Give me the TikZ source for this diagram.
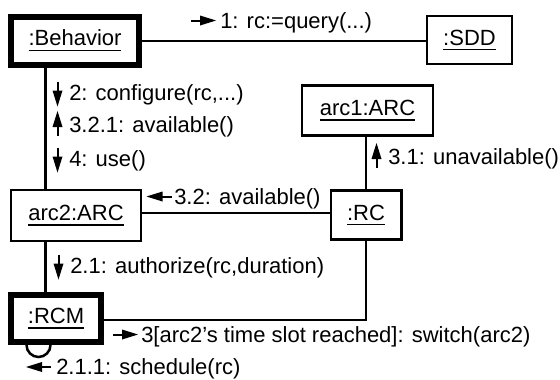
\documentclass[tikz,border=0pt]{standalone}
\usepackage{fontspec}
\setmainfont{Liberation Sans}
\newcommand\ulx[1]{\setbox0\hbox{#1}\rlap{\vrule height -3.75pt depth 5.25pt width \wd0}\box0}
\begin{document}
\begin{tikzpicture}[x=1pt,y=-1pt, line width=2.5pt, font=\fontsize{22}{26}\selectfont,
  obj/.style={draw, rectangle, inner sep=0pt, text height=15.75pt, text depth=5.5pt},
  act/.style={obj, line width=6pt},
  msgtxt/.style={anchor=base west, inner sep=0pt},
  marrow/.pic={\draw[line width=2pt] (0,0) -- (10,0); \fill (9,-5) -- (25,0) -- (9,5) -- cycle;}]
\useasboundingbox (0,0) rectangle (560,380);
% objects
\node[act, minimum width=128pt, minimum height=48.5pt] (Beh) at (75,40.75) {\ulx{:Behavior}};
\node[obj, minimum width=85pt, minimum height=48pt] (SDD) at (469.5,40) {\ulx{:SDD}};
\node[obj, minimum width=131pt, minimum height=50pt] (arc1) at (367.5,110.5) {\ulx{arc1:ARC}};
\node[obj, minimum width=130pt, minimum height=51pt] (arc2) at (76,215.5) {\ulx{arc2:ARC}};
\node[obj, minimum width=70.5pt, minimum height=49pt] (RC) at (366,215) {\ulx{:RC}};
\node[act, minimum width=90pt, minimum height=47pt] (RCM) at (56,318.5) {\ulx{:RCM}};
% helper coordinates
\coordinate (vx) at (45.5,0);
\coordinate (hy) at (0,213);
\coordinate (ry) at (0,320);
\coordinate (lx) at (26.5,0);
% links
\draw (Beh.east) -- (Beh.east -| SDD.west);
\draw (Beh.south -| vx) -- (arc2.north -| vx);
\draw (arc2.south -| vx) -- (RCM.north -| vx);
\draw (arc2.east |- hy) -- (RC.west |- hy);
\draw (arc1.south -| RC) -- (RC.north);
\draw (RCM.east |- ry) -| (RC.south);
\draw (RCM.south -| lx) arc[start angle=180, end angle=360, radius=12pt];
% messages
\node[msgtxt] (m1) at (219,28) {1: rc:=query(...)};
\pic at ([shift={(-28pt,7.5pt)}]m1.base west) {marrow};
\node[msgtxt] (m2) at (68,100) {2: configure(rc,...)};
\pic[rotate=-90] at ([shift={(-10.5pt,18.5pt)}]m2.base west) {marrow};
\node[msgtxt] (m3) at (68,132) {3.2.1: available()};
\pic[rotate=90] at ([shift={(-10.5pt,-4pt)}]m3.base west) {marrow};
\node[msgtxt] (m4) at (68,166) {4: use()};
\pic[rotate=-90] at ([shift={(-10.5pt,18.5pt)}]m4.base west) {marrow};
\node[msgtxt] (m5) at (387,164) {3.1: unavailable()};
\pic[rotate=90] at ([shift={(-10.5pt,-4pt)}]m5.base west) {marrow};
\node[msgtxt] (m6) at (173,204) {3.2: available()};
\pic[rotate=180] at ([shift={(-1.5pt,7.5pt)}]m6.base west) {marrow};
\node[msgtxt] (m7) at (69,273) {2.1: authorize(rc,duration)};
\pic[rotate=-90] at ([shift={(-10.5pt,18.5pt)}]m7.base west) {marrow};
\node[msgtxt] (m8) at (140,342) {3[arc2's time slot reached]: switch(arc2)};
\pic at ([shift={(-27pt,7.5pt)}]m8.base west) {marrow};
\node[msgtxt] (m9) at (55,374.5) {2.1.1: schedule(rc)};
\pic[rotate=180] at ([shift={(-4pt,7.5pt)}]m9.base west) {marrow};
\end{tikzpicture}
\end{document}
